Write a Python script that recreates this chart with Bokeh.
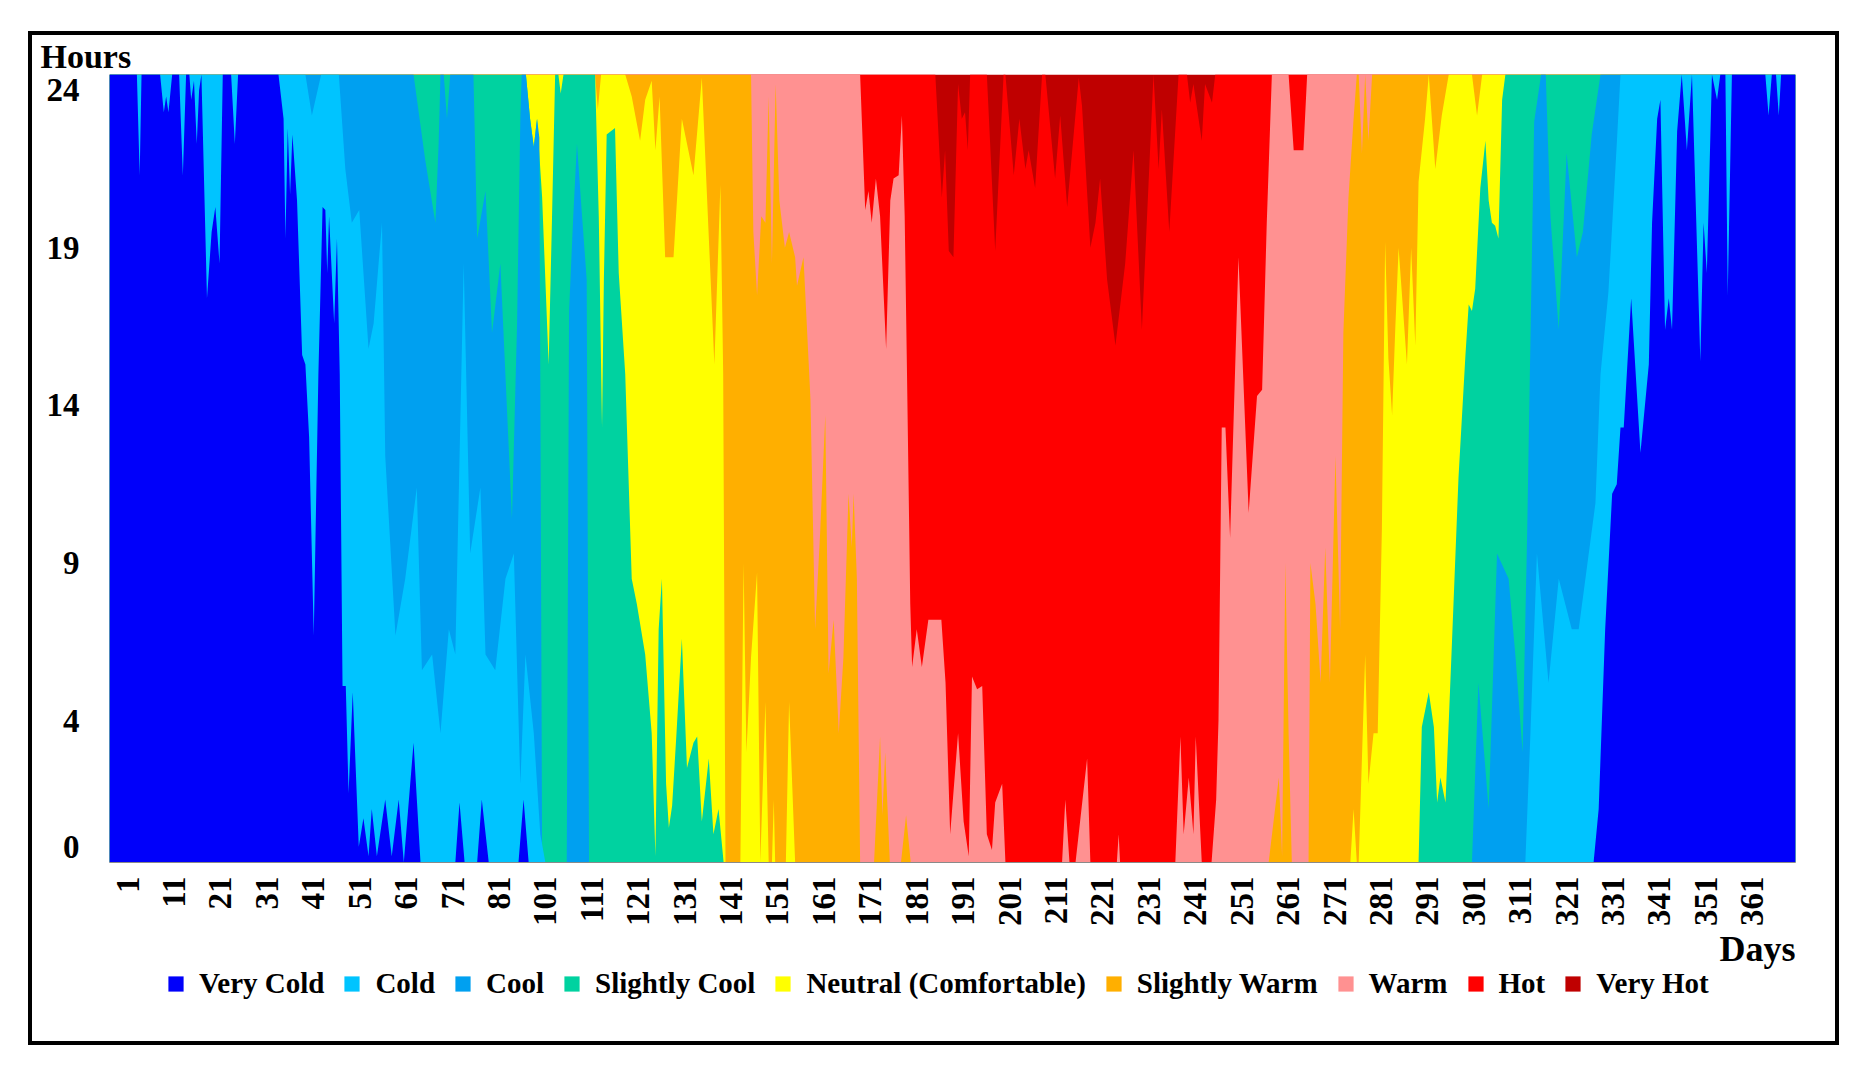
from math import pi

from bokeh.embed import file_html
from bokeh.layouts import column
from bokeh.models import FixedTicker, Label, Legend, LegendItem, Range1d
from bokeh.plotting import figure
from bokeh.resources import INLINE

# Thermal comfort classes, coldest first (stacking order from the bottom)
CLASSES = ["Very Cold", "Cold", "Cool", "Slightly Cool", "Neutral (Comfortable)",
           "Slightly Warm", "Warm", "Hot", "Very Hot"]
COLORS = ["#0000FA", "#00C4FF", "#00A0F0", "#00D2A0", "#FFFF00",
          "#FFAF00", "#FF9191", "#FF0000", "#BF0000"]

DAY_TICK_LABELS = ["1", "11", "21", "31", "41", "51", "61", "71", "81", "101", "111",
                   "121", "131", "141", "151", "161", "171", "181", "191", "201", "211",
                   "221", "231", "241", "251", "261", "271", "281", "291", "301", "311",
                   "321", "331", "341", "351", "361"]
HOUR_TICKS = [0, 4, 9, 14, 19, 24]

# Upper edge (hours) of each class band per day; hourly slots are centred on the
# hour, so a full day spans -0.5 .. 24.5.
VERY_COLD = [(-2.9, 24.5), (3.0, 24.5), (3.6, 21.3), (4.0, 24.5), (8.0, 24.5), (8.8, 23.3),
             (9.3, 23.8), (9.8, 23.3), (10.6, 24.5), (12.1, 24.5), (12.9, 21.3), (13.6, 24.5),
             (14.3, 24.5), (14.7, 23.7), (15.3, 24.3), (15.9, 22.3), (16.4, 24.0), (16.9, 24.5),
             (18.1, 17.4), (19.1, 19.5), (19.9, 20.3), (20.8, 18.5), (21.5, 24.5), (23.3, 24.5),
             (24.1, 22.3), (24.8, 24.5), (33.5, 24.5), (34.6, 23.1), (35.0, 19.3), (35.5, 22.8),
             (36.0, 20.7), (36.5, 22.6), (37.5, 20.5), (38.6, 15.6), (39.3, 15.3), (40.1, 13.0),
             (41.1, 6.7), (42.1, 15.0), (43.0, 20.3), (43.6, 20.2), (44.0, 18.2), (44.4, 20.0),
             (45.5, 16.6), (46.1, 19.3), (46.7, 15.0), (47.3, 5.1), (48.0, 5.1), (48.6, 1.7),
             (49.5, 4.9), (50.8, 0.0), (51.8, 0.9), (52.9, -0.3), (53.6, 1.2), (54.7, -0.3),
             (56.5, 1.5), (57.9, -0.3), (59.4, 1.5), (60.5, -0.5), (62.6, 3.3), (64.1, -0.5),
             (71.6, -0.5), (72.5, 1.4), (73.6, -0.5), (76.3, -0.5), (77.3, 1.5), (78.8, -0.5),
             (85.2, -0.5), (86.3, 1.5), (87.4, -0.5), (316.8, -0.5), (317.9, 1.2), (319.3, 6.9),
             (320.8, 11.2), (321.8, 11.5), (322.6, 13.3), (323.3, 13.3), (324.9, 17.4),
             (326.9, 12.5), (328.7, 15.3), (329.4, 19.8), (330.5, 23.1), (331.2, 23.7),
             (332.2, 16.4), (333.0, 17.4), (333.7, 16.4), (334.8, 22.7), (335.8, 24.5),
             (336.9, 22.1), (338.0, 24.5), (339.8, 15.4), (340.5, 19.8), (341.2, 18.2),
             (342.3, 24.5), (343.4, 23.7), (344.1, 24.5), (345.2, 24.5), (345.7, 17.5),
             (346.6, 24.5), (353.8, 24.5), (354.5, 23.2), (355.2, 24.5), (356.1, 24.5),
             (356.7, 23.2), (357.2, 24.5), (360.3, 24.5)]

COLD = [(-2.9, 24.5), (39.3, 24.5), (40.7, 23.2), (42.7, 24.5), (46.5, 24.5), (47.9, 21.5),
        (49.3, 19.8), (50.9, 20.2), (52.9, 15.8), (54.0, 16.6), (55.8, 19.8), (56.5, 12.4),
        (58.7, 6.7), (60.8, 8.5), (63.3, 11.4), (64.4, 5.6), (66.6, 6.1), (68.4, 3.6),
        (70.2, 6.9), (71.6, 6.1), (73.4, 18.5), (74.8, 9.3), (77.0, 11.4), (78.1, 6.1),
        (80.2, 5.6), (82.4, 8.5), (84.2, 9.3), (85.6, 2.0), (86.7, 6.1), (88.5, 3.6),
        (89.9, 0.4), (91.0, -0.5), (302.1, -0.5), (303.2, 3.6), (304.6, 9.3), (307.1, 5.2),
        (309.3, 8.5), (312.1, 6.9), (313.6, 6.9), (317.2, 10.9), (318.3, 15.0), (320.0, 17.6),
        (321.8, 22.3), (322.6, 24.5), (360.3, 24.5)]

COOL = [(-2.9, 24.5), (62.6, 24.5), (65.1, 21.8), (67.3, 19.8), (68.0, 22.3), (68.4, 24.5),
        (69.1, 24.5), (69.8, 23.1), (70.5, 24.5), (75.5, 24.5), (76.3, 19.3), (78.1, 20.8),
        (79.5, 16.3), (81.3, 18.5), (83.8, 10.4), (84.9, 16.6), (85.6, 23.1), (85.9, 24.5),
        (86.8, 24.5), (87.7, 23.1), (88.5, 22.2), (89.2, 23.1), (89.7, 22.5), (90.3, -0.5),
        (95.6, -0.5), (96.1, 17.0), (97.0, 20.0), (97.8, 22.3), (98.9, 20.0), (99.9, 18.0),
        (100.4, -0.5), (290.6, -0.5), (292.0, 5.2), (294.2, 1.2), (296.0, 9.3), (298.5, 8.5),
        (300.0, 6.0), (301.5, 3.0), (302.5, 10.0), (304.0, 23.0), (305.5, 24.5), (306.5, 24.5),
        (307.5, 20.0), (309.3, 16.4), (311.0, 22.0), (313.2, 18.7), (314.5, 19.5),
        (316.4, 22.6), (318.3, 24.5), (360.3, 24.5)]

SLIGHTLY_COOL = [(-2.9, 24.5), (86.8, 24.5), (87.7, 23.1), (88.5, 22.2), (89.2, 23.1),
                 (90.3, 20.6), (91.7, 15.3), (92.4, 19.8), (93.1, 24.5), (93.8, 24.5),
                 (94.3, 23.9), (94.9, 24.5), (101.7, 24.5), (102.5, 20.0), (103.2, 13.3),
                 (103.6, 18.0), (104.2, 22.6), (106.0, 22.8), (106.8, 18.2), (108.2, 15.0),
                 (109.6, 8.5), (110.7, 7.7), (112.5, 6.1), (113.9, 3.6), (114.7, -0.3),
                 (115.4, 6.9), (116.1, 8.5), (117.0, 2.0), (117.6, 0.6), (118.3, 1.3),
                 (119.2, 3.5), (120.4, 6.6), (121.5, 2.5), (122.9, 3.3), (123.7, 3.5),
                 (124.7, 0.8), (126.2, 2.8), (127.2, 0.4), (128.3, 1.2), (129.4, -0.5),
                 (279.1, -0.5), (279.8, 3.8), (281.3, 4.9), (282.4, 3.8), (283.1, 1.4),
                 (283.8, 2.2), (284.9, 1.4), (286.3, 6.5), (287.7, 11.7), (289.2, 15.6),
                 (289.9, 17.2), (290.6, 17.0), (291.3, 17.7), (292.4, 20.9), (293.5, 22.4),
                 (294.2, 20.5), (294.9, 19.8), (295.6, 19.7), (296.3, 19.3), (297.1, 23.7),
                 (297.8, 24.5), (360.3, 24.5)]

NEUTRAL = [(-2.9, 24.5), (101.7, 24.5), (102.3, 23.4), (103.0, 24.5), (108.2, 24.5),
           (109.6, 23.8), (111.4, 22.4), (112.5, 23.7), (113.9, 24.3), (114.7, 22.1),
           (115.6, 23.8), (116.8, 18.7), (118.6, 18.7), (120.4, 23.1), (122.9, 21.3),
           (124.7, 24.4), (127.4, 15.3), (128.7, 21.0), (129.3, 15.0), (129.8, -0.5),
           (133.0, -0.5), (133.7, 9.0), (134.3, 3.0), (135.3, 6.0), (136.6, 8.7), (137.3, -0.5),
           (138.4, 4.6), (139.1, -0.5), (139.8, -0.5), (140.2, 1.5), (140.5, -0.5),
           (142.8, -0.5), (143.5, 4.6), (144.8, -0.5), (264.4, -0.5), (265.1, 1.2),
           (265.8, -0.5), (266.2, -0.5), (267.6, 6.1), (268.3, 2.0), (269.4, 3.6), (270.3, 3.6),
           (271.2, 10.1), (271.9, 19.2), (272.6, 15.5), (273.4, 13.7), (274.1, 16.5),
           (274.8, 19.0), (276.6, 15.3), (277.5, 19.0), (278.4, 15.9), (279.1, 21.1),
           (280.5, 23.1), (281.3, 24.5), (282.7, 21.5), (284.1, 23.2), (285.6, 24.5),
           (290.6, 24.5), (291.7, 23.2), (292.8, 24.5), (360.3, 24.5)]

SLIGHTLY_WARM = [(-2.9, 24.5), (135.3, 24.5), (135.8, 19.5), (136.6, 17.5), (137.5, 20.0),
                 (138.4, 19.8), (139.1, 23.8), (139.8, 18.5), (140.6, 24.2), (141.4, 20.5),
                 (142.6, 19.0), (143.5, 19.5), (144.8, 18.7), (145.2, 17.8), (146.6, 18.7),
                 (147.3, 16.6), (148.1, 14.2), (149.1, 6.9), (150.2, 10.0), (151.3, 13.7),
                 (152.0, 5.5), (153.1, 7.2), (154.2, 3.6), (155.2, 6.0), (156.3, 11.2),
                 (157.0, 9.5), (157.4, 11.2), (158.1, 8.5), (158.8, -0.5), (161.8, -0.5),
                 (163.1, 3.5), (163.6, 1.0), (164.2, 3.0), (165.2, -0.5), (167.6, -0.5),
                 (168.7, 1.0), (169.7, -0.5), (246.8, -0.5), (249.0, 2.2), (249.7, -0.3),
                 (250.4, 9.0), (251.1, 3.6), (251.8, -0.5), (255.4, -0.5), (255.8, 9.0),
                 (256.9, 7.7), (258.0, 5.2), (259.0, 9.5), (260.0, 5.2), (261.2, 12.4),
                 (262.2, 6.9), (262.9, 16.3), (264.0, 20.6), (265.1, 23.1), (265.8, 24.5),
                 (266.2, 24.5), (266.9, 22.0), (267.6, 24.5), (268.3, 22.4), (269.1, 24.5),
                 (360.3, 24.5)]

WARM = [(-2.9, 24.5), (158.8, 24.5), (159.9, 20.2), (160.6, 20.8), (161.3, 19.8), (162.2, 21.2),
        (163.1, 20.0), (164.4, 15.8), (165.3, 20.5), (166.0, 21.2), (167.1, 21.3), (167.8, 23.2),
        (168.4, 20.0), (168.9, 15.0), (169.6, 7.7), (170.0, 5.7), (171.0, 6.9), (172.1, 5.7),
        (173.5, 7.2), (176.3, 7.2), (177.2, 5.2), (178.2, 0.4), (179.9, 3.6), (181.1, 0.8),
        (182.2, -0.3), (182.9, 5.4), (184.0, 5.0), (185.1, 5.1), (186.1, 0.4), (187.2, -0.1),
        (187.9, 1.4), (189.4, 2.0), (190.1, -0.5), (202.3, -0.5), (203.0, 1.5), (203.9, -0.5),
        (205.2, -0.5), (207.7, 2.8), (208.4, -0.5), (214.1, -0.5), (214.5, 0.4), (214.8, -0.5),
        (226.7, -0.5), (227.8, 3.5), (228.5, 0.4), (229.6, 2.2), (230.6, 0.4), (231.1, 3.5),
        (232.4, -0.5), (234.5, -0.5), (235.5, 1.5), (236.0, 4.0), (236.7, 13.3), (237.5, 13.3),
        (238.5, 9.8), (240.3, 18.7), (242.5, 10.6), (244.3, 14.3), (245.4, 14.5), (246.4, 19.8),
        (247.5, 24.5), (251.1, 24.5), (252.2, 22.1), (254.3, 22.1), (255.1, 24.5), (360.3, 24.5)]

HOT = [(-2.9, 24.5), (175.0, 24.5), (176.4, 20.6), (177.1, 22.1), (177.9, 18.9), (178.9, 18.7),
       (179.9, 24.2), (180.7, 23.1), (181.4, 23.3), (182.0, 22.1), (182.5, 24.5), (186.1, 24.5),
       (187.9, 18.9), (189.7, 24.5), (190.1, 24.5), (191.9, 21.3), (193.1, 23.1), (194.4, 21.5),
       (195.1, 22.1), (196.5, 20.9), (198.0, 24.5), (198.7, 24.5), (200.8, 21.2), (201.9, 23.2),
       (203.4, 20.3), (205.9, 24.4), (206.6, 23.5), (208.4, 19.0), (209.5, 19.8), (210.5, 21.2),
       (212.0, 18.0), (213.8, 15.9), (215.9, 18.5), (217.7, 22.1), (219.5, 16.4), (222.0, 24.5),
       (223.1, 21.5), (223.8, 23.4), (225.4, 19.5), (227.4, 24.5), (229.2, 24.5), (229.9, 23.6),
       (230.6, 24.2), (232.4, 22.4), (233.1, 24.2), (234.6, 23.6), (235.3, 24.5), (360.3, 24.5)]

VERY_HOT = [(-2.9, 24.5), (360.3, 24.5)]

BANDS = [VERY_COLD, COLD, COOL, SLIGHTLY_COOL, NEUTRAL, SLIGHTLY_WARM, WARM, HOT, VERY_HOT]

SERIF = "Liberation Serif"
DAY_MIN, DAY_MAX = -2.9, 360.3
HOUR_MIN, HOUR_MAX = -0.5, 24.5
WIDTH = 1803
MAIN_TOP, MAIN_BOTTOM = 39, 64
FRAME_W, FRAME_H = 1686, 788
KEY_H = 1003 - (MAIN_TOP + FRAME_H + MAIN_BOTTOM)

p = figure(frame_width=FRAME_W, frame_height=FRAME_H, output_backend="svg",
           toolbar_location=None,
           x_range=Range1d(DAY_MIN, DAY_MAX), y_range=Range1d(HOUR_MIN, HOUR_MAX),
           min_border_left=77, min_border_right=WIDTH - 77 - FRAME_W,
           min_border_top=MAIN_TOP, min_border_bottom=MAIN_BOTTOM,
           background_fill_color="white", border_fill_color="white")
p.grid.visible = False
p.outline_line_color = None

# Paint the hottest band first; each colder band is painted over it from the
# bottom up to its own upper edge.
for name, color, band in reversed(list(zip(CLASSES, COLORS, BANDS))):
    days = [d for d, _ in band]
    tops = [h for _, h in band]
    p.varea(x=days, y1=[HOUR_MIN] * len(days), y2=tops, fill_color=color, fill_alpha=1.0)

# Day axis: one label every ten positions
tick_pos = [1 + 10 * i for i in range(len(DAY_TICK_LABELS))]
p.xaxis.ticker = FixedTicker(ticks=tick_pos)
p.xaxis.major_label_overrides = {t: lab for t, lab in zip(tick_pos, DAY_TICK_LABELS)}
p.xaxis.major_label_orientation = pi / 2
p.xaxis.minor_tick_line_color = None
p.xaxis.major_tick_line_color = None
p.xaxis.axis_line_color = "#8a8a8a"
p.xaxis.major_label_standoff = 8

p.yaxis.ticker = FixedTicker(ticks=HOUR_TICKS)
p.yaxis.minor_tick_line_color = None
p.yaxis.major_tick_line_color = None
p.yaxis.axis_line_color = None
p.yaxis.major_label_standoff = 24

for ax in (p.xaxis, p.yaxis):
    ax.major_label_text_font = SERIF
    ax.major_label_text_font_style = "bold"
    ax.major_label_text_font_size = "33px"
    ax.major_label_text_color = "black"

# "Hours" sits above the top-left corner of the plot area
p.title.text = "Hours"
p.title.align = "left"
p.title.offset = -69
p.title.standoff = 0
p.title.text_font = SERIF
p.title.text_font_style = "bold"
p.title.text_font_size = "34px"
p.title.text_color = "black"

# Strip under the chart: "Days" caption and the colour key.  Its plot area
# lines up with the chart's plot area above it.
key = figure(width=WIDTH, height=KEY_H, output_backend="svg", toolbar_location=None,
             title=None, x_range=Range1d(0, 1), y_range=Range1d(0, 1),
             min_border=0, background_fill_color="white", border_fill_color="white")
key.axis.visible = False
key.grid.visible = False
key.outline_line_color = None

key.add_layout(Label(x=FRAME_W, y=KEY_H - 19, x_units="screen", y_units="screen",
                     text="Days", text_align="right", text_baseline="middle",
                     text_font=SERIF, text_font_style="bold", text_font_size="36px",
                     text_color="black"))

# zero-height areas: they only lend their fill to the key swatches
swatches = [key.varea(x=[0, 1], y1=[0, 0], y2=[0, 0], fill_color=c, fill_alpha=1.0)
            for c in COLORS]
legend = Legend(items=[LegendItem(label=n, renderers=[r]) for n, r in zip(CLASSES, swatches)],
                orientation="horizontal", location=(57, KEY_H - 56 - 15),
                glyph_width=19, glyph_height=19, label_standoff=14, spacing=18,
                padding=0, margin=0, label_height=30,
                background_fill_alpha=0, border_line_color=None,
                label_text_font=SERIF, label_text_font_style="bold",
                label_text_font_size="29px", label_text_color="black")
key.add_layout(legend)

page = column(p, key, spacing=0,
              styles={"margin-left": "28px", "margin-top": "31px",
                      "border": "4px solid black"})

open("out.html", "w").write(file_html(page, INLINE))
